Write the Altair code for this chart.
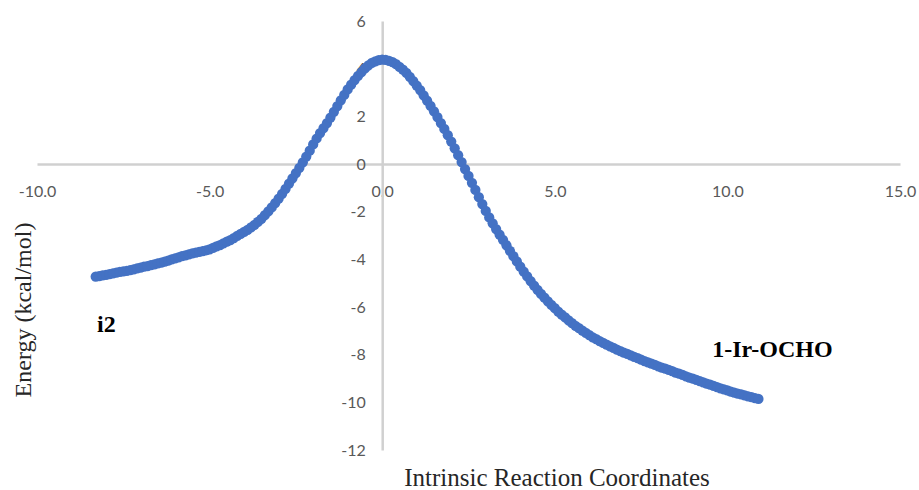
import altair as alt
import pandas as pd

# Intrinsic reaction coordinate (IRC) path: reaction coordinate and relative energy
irc_x = [
    -8.3, -8.2, -8.1, -8.0, -7.9, -7.8, -7.7, -7.6, -7.5, -7.4,
    -7.3, -7.2, -7.1, -7.0, -6.9, -6.8, -6.7, -6.6, -6.5, -6.4,
    -6.3, -6.2, -6.1, -6.0, -5.9, -5.8, -5.7, -5.6, -5.5, -5.4,
    -5.3, -5.2, -5.1, -5.0, -4.9, -4.8, -4.7, -4.6, -4.5, -4.4,
    -4.3, -4.2, -4.1, -4.0, -3.9, -3.8, -3.7, -3.6, -3.5, -3.4,
    -3.3, -3.2, -3.1, -3.0, -2.9, -2.8, -2.7, -2.6, -2.5, -2.4,
    -2.3, -2.2, -2.1, -2.0, -1.9, -1.8, -1.7, -1.6, -1.5, -1.4,
    -1.3, -1.2, -1.1, -1.0, -0.9, -0.8, -0.7, -0.6, -0.5, -0.4,
    -0.3, -0.2, -0.1, 0.0, 0.1, 0.2, 0.3, 0.4, 0.5, 0.6,
    0.7, 0.8, 0.9, 1.0, 1.1, 1.2, 1.3, 1.4, 1.5, 1.6,
    1.7, 1.8, 1.9, 2.0, 2.1, 2.2, 2.3, 2.4, 2.5, 2.6,
    2.7, 2.8, 2.9, 3.0, 3.1, 3.2, 3.3, 3.4, 3.5, 3.6,
    3.7, 3.8, 3.9, 4.0, 4.1, 4.2, 4.3, 4.4, 4.5, 4.6,
    4.7, 4.8, 4.9, 5.0, 5.1, 5.2, 5.3, 5.4, 5.5, 5.6,
    5.7, 5.8, 5.9, 6.0, 6.1, 6.2, 6.3, 6.4, 6.5, 6.6,
    6.7, 6.8, 6.9, 7.0, 7.1, 7.2, 7.3, 7.4, 7.5, 7.6,
    7.7, 7.8, 7.9, 8.0, 8.1, 8.2, 8.3, 8.4, 8.5, 8.6,
    8.7, 8.8, 8.9, 9.0, 9.1, 9.2, 9.3, 9.4, 9.5, 9.6,
    9.7, 9.8, 9.9, 10.0, 10.1, 10.2, 10.3, 10.4, 10.5, 10.6,
    10.7, 10.8, 10.9,
]

irc_energy = [
    -4.73, -4.70, -4.67, -4.65, -4.62, -4.59, -4.56, -4.53, -4.51, -4.48,
    -4.45, -4.42, -4.38, -4.35, -4.31, -4.28, -4.24, -4.21, -4.17, -4.14,
    -4.10, -4.05, -4.00, -3.96, -3.92, -3.87, -3.83, -3.79, -3.75, -3.72,
    -3.69, -3.66, -3.62, -3.58, -3.52, -3.46, -3.40, -3.33, -3.26, -3.19,
    -3.11, -3.02, -2.93, -2.85, -2.76, -2.66, -2.55, -2.43, -2.30, -2.15,
    -1.99, -1.82, -1.64, -1.45, -1.25, -1.04, -0.82, -0.60, -0.38, -0.16,
    0.07, 0.31, 0.56, 0.82, 1.07, 1.30, 1.51, 1.72, 1.95, 2.19,
    2.43, 2.67, 2.90, 3.13, 3.33, 3.52, 3.70, 3.86, 4.01, 4.14,
    4.24, 4.31, 4.36, 4.38, 4.37, 4.33, 4.27, 4.19, 4.08, 3.96,
    3.82, 3.66, 3.48, 3.29, 3.10, 2.88, 2.66, 2.44, 2.21, 1.97,
    1.72, 1.47, 1.21, 0.94, 0.66, 0.37, 0.08, -0.21, -0.50, -0.79,
    -1.09, -1.39, -1.68, -1.97, -2.24, -2.49, -2.73, -2.96, -3.18, -3.41,
    -3.64, -3.87, -4.09, -4.31, -4.52, -4.72, -4.91, -5.10, -5.28, -5.45,
    -5.61, -5.76, -5.91, -6.05, -6.19, -6.32, -6.44, -6.56, -6.68, -6.79,
    -6.89, -6.99, -7.09, -7.18, -7.27, -7.35, -7.43, -7.51, -7.58, -7.65,
    -7.72, -7.79, -7.85, -7.91, -7.97, -8.03, -8.09, -8.15, -8.21, -8.27,
    -8.32, -8.38, -8.43, -8.49, -8.54, -8.59, -8.64, -8.69, -8.75, -8.80,
    -8.85, -8.91, -8.96, -9.01, -9.06, -9.11, -9.16, -9.21, -9.26, -9.31,
    -9.36, -9.41, -9.46, -9.50, -9.55, -9.59, -9.63, -9.67, -9.71, -9.75,
    -9.78, -9.82, -9.86,
]

x_ticks = [-10, -5, 0, 5, 10, 15]
y_ticks = [-12, -10, -8, -6, -4, -2, 0, 2, 4, 6]

# Species labels at the two ends of the path
label_text = ["i2", "1-Ir-OCHO"]
label_x = [-8.26, 9.56]
label_y = [-7.05, -8.10]

path = pd.DataFrame({"coord": irc_x, "energy": irc_energy})
labels = pd.DataFrame({"text": label_text, "coord": label_x, "energy": label_y})

W, H = 863, 429
AXIS_GRAY = "#d0d0d0"
TICK_GRAY = "#595959"

x_scale = alt.Scale(domain=[-10, 15], nice=False, zero=False)
y_scale = alt.Scale(domain=[-12, 6], nice=False, zero=False)

# Tick labels with a plain hyphen-minus
x_label_expr = "datum.value < 0 ? '-' + format(-datum.value, '.1f') : format(datum.value, '.1f')"
y_label_expr = "datum.value < 0 ? '-' + format(-datum.value, 'd') : format(datum.value, 'd')"

# Axes cross at the origin: shift the bottom/left axes onto y=0 / x=0
x_axis = alt.Axis(
    values=x_ticks, labelExpr=x_label_expr, title=None, grid=False,
    ticks=False, tickSize=0, offset=-(H * 12 / 18),
    domainColor=AXIS_GRAY, domainWidth=2.5,
    labelPadding=19, labelFont="Lato", labelFontSize=16,
    labelColor=TICK_GRAY, labelFlush=False, labelOverlap=False,
)
y_axis = alt.Axis(
    values=y_ticks, labelExpr=y_label_expr, title=None, grid=False,
    ticks=False, tickSize=0, offset=-(W * 10 / 25),
    domainColor=AXIS_GRAY, domainWidth=2.5,
    labelPadding=17, labelFont="Lato", labelFontSize=16,
    labelColor=TICK_GRAY, labelFlush=False, labelOverlap=False,
)

points = alt.Chart(path).mark_circle(size=105, opacity=1, color="#4472C4").encode(
    x=alt.X("coord:Q", scale=x_scale, axis=x_axis),
    y=alt.Y("energy:Q", scale=y_scale, axis=y_axis),
)

annotations = alt.Chart(labels).mark_text(
    align="left", baseline="alphabetic", font="Liberation Serif",
    fontSize=24, fontWeight="bold", color="#000000",
).encode(
    x=alt.X("coord:Q", scale=x_scale),
    y=alt.Y("energy:Q", scale=y_scale),
    text="text:N",
)

x_title = alt.Chart(pd.DataFrame({"t": ["Intrinsic Reaction Coordinates"]})).mark_text(
    align="center", baseline="alphabetic", font="Liberation Serif",
    fontSize=25, color="#262626",
).encode(x=alt.value(520), y=alt.value(465), text="t:N")

y_title = alt.Chart(pd.DataFrame({"t": ["Energy (kcal/mol)"]})).mark_text(
    align="center", baseline="alphabetic", angle=270, font="Liberation Serif",
    fontSize=24, color="#262626",
).encode(x=alt.value(-6), y=alt.value(289), text="t:N")

chart = (
    alt.layer(points, annotations, x_title, y_title)
    .properties(
        width=W, height=H,
        autosize=alt.AutoSizeParams(type="none"),
        padding={"left": 37, "top": 21, "right": 19, "bottom": 40},
        background="white",
    )
    .configure_view(stroke=None)
)

chart.save("out.html", embed_options={"renderer": "svg", "actions": False})
